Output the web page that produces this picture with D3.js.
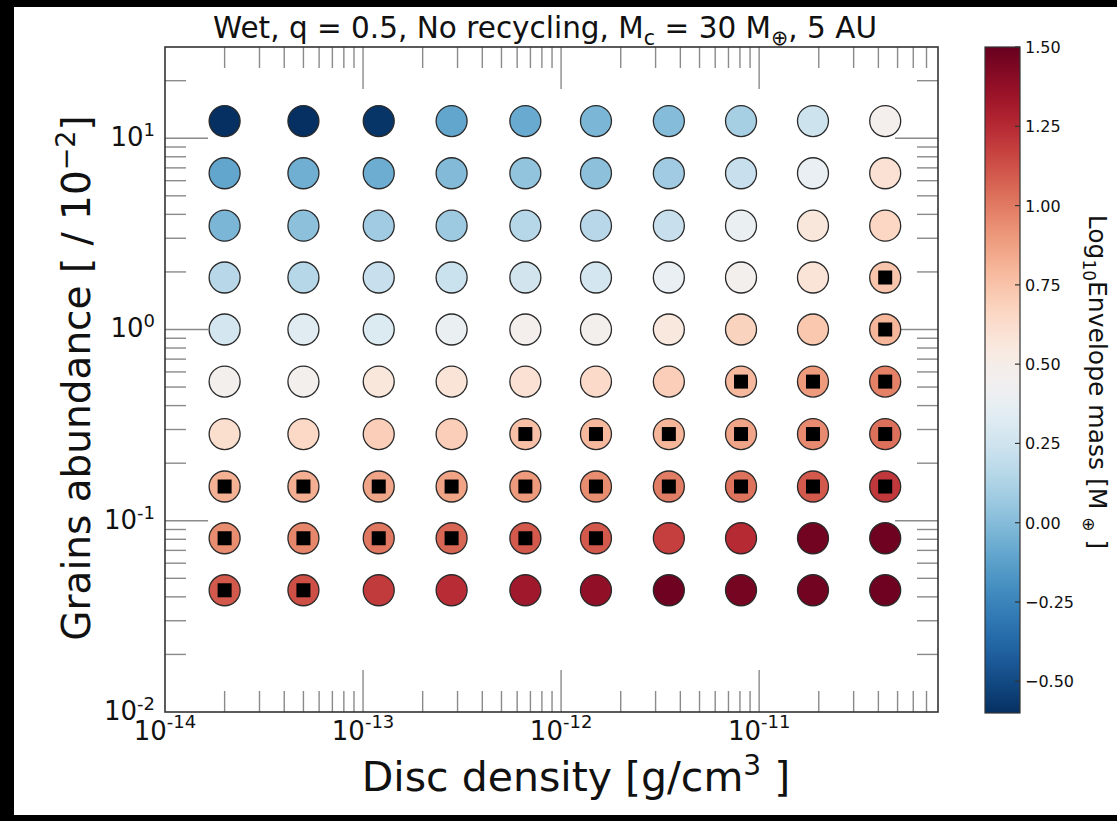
<!DOCTYPE html>
<html>
<head>
<meta charset="utf-8">
<script src="https://cdn.jsdelivr.net/npm/d3@7"></script>
<style>
  body { margin: 0; background: #000; }
  svg { display: block; }
  text { font-family: "DejaVu Sans", sans-serif; fill: #111; }
</style>
</head>
<body>
<svg id="chart" width="1117" height="821"></svg>
<script>
// grid of models: disc density (columns) x grains abundance (rows)
const density = [2e-14, 5e-14, 1.2e-13, 2.8e-13, 6.6e-13, 1.5e-12, 3.5e-12, 8.1e-12, 1.87e-11, 4.33e-11];
const abundance = [12.3, 6.56, 3.49, 1.87, 1.0, 0.534, 0.284, 0.151, 0.081, 0.0433];

// log10 envelope mass, one row per abundance (top to bottom)
const logMass = [
  [-0.62, -0.6, -0.58, -0.1, -0.08, -0.03, 0.0, 0.1, 0.24, 0.47],
  [-0.1, -0.06, -0.07, -0.01, 0.04, 0.02, 0.08, 0.22, 0.38, 0.6],
  [-0.03, 0.02, 0.08, 0.07, 0.15, 0.16, 0.22, 0.39, 0.56, 0.66],
  [0.16, 0.15, 0.22, 0.23, 0.26, 0.27, 0.38, 0.46, 0.58, 0.74],
  [0.27, 0.33, 0.31, 0.39, 0.47, 0.46, 0.55, 0.68, 0.73, 0.8],
  [0.46, 0.46, 0.56, 0.58, 0.6, 0.64, 0.7, 0.79, 0.9, 0.98],
  [0.62, 0.65, 0.7, 0.7, 0.76, 0.79, 0.8, 0.86, 0.95, 1.03],
  [0.82, 0.83, 0.86, 0.87, 0.9, 0.94, 0.99, 1.02, 1.1, 1.2],
  [0.94, 0.96, 1.01, 1.06, 1.1, 1.1, 1.18, 1.25, 1.47, 1.48],
  [1.1, 1.13, 1.19, 1.24, 1.33, 1.38, 1.48, 1.46, 1.47, 1.48]
];

// 1 = black square marker
const marked = [
  [0, 0, 0, 0, 0, 0, 0, 0, 0, 0],
  [0, 0, 0, 0, 0, 0, 0, 0, 0, 0],
  [0, 0, 0, 0, 0, 0, 0, 0, 0, 0],
  [0, 0, 0, 0, 0, 0, 0, 0, 0, 1],
  [0, 0, 0, 0, 0, 0, 0, 0, 0, 1],
  [0, 0, 0, 0, 0, 0, 0, 1, 1, 1],
  [0, 0, 0, 0, 1, 1, 1, 1, 1, 1],
  [1, 1, 1, 1, 1, 1, 1, 1, 1, 1],
  [1, 1, 1, 1, 1, 1, 0, 0, 0, 0],
  [1, 1, 0, 0, 0, 0, 0, 0, 0, 0]
];

const xTickExp = ["-14", "-13", "-12", "-11"];
const yTickExp = ["-2", "-1", "0", "1"];
const cbarTicks = [-0.5, -0.25, 0, 0.25, 0.5, 0.75, 1.0, 1.25, 1.5];

const svg = d3.select("#chart");

// white page with the black scan border left/top/bottom
svg.append("rect").attr("x", 14).attr("y", 7).attr("width", 1103).attr("height", 808).attr("fill", "#fff");

const pL = 165, pR = 938, pT = 47, pB = 712;

const x = d3.scaleLog().domain([1e-14, 8e-11]).range([pL, pR]);
const y = d3.scaleLog().domain([0.01, 30]).range([pB, pT]);
const color = d3.scaleSequential(t => d3.interpolateRdBu(1 - t)).domain([-0.6, 1.5]).clamp(true);

function isMajor(v) {
  const l = Math.log10(v);
  return Math.abs(l - Math.round(l)) < 1e-6;
}

// ticks, inward on all four sides
const tickG = svg.append("g").attr("stroke", "#8a8a8a").attr("stroke-width", 1.4);
const xt = x.ticks().filter(v => v > 1e-14 * 1.0001 && v < 8e-11 * 0.9999);
xt.forEach(v => {
  const len = isMajor(v) ? 42 : 21;
  tickG.append("line").attr("x1", x(v)).attr("x2", x(v)).attr("y1", pB).attr("y2", pB - len);
  tickG.append("line").attr("x1", x(v)).attr("x2", x(v)).attr("y1", pT).attr("y2", pT + len);
});
const yt = y.ticks().filter(v => v > 0.01 * 1.0001 && v < 30 * 0.9999);
yt.forEach(v => {
  const len = isMajor(v) ? 43 : 21;
  tickG.append("line").attr("y1", y(v)).attr("y2", y(v)).attr("x1", pL).attr("x2", pL + len);
  tickG.append("line").attr("y1", y(v)).attr("y2", y(v)).attr("x1", pR).attr("x2", pR - len);
});

// frame
svg.append("rect").attr("x", pL).attr("y", pT).attr("width", pR - pL).attr("height", pB - pT)
  .attr("fill", "none").attr("stroke", "#333").attr("stroke-width", 1.6);

// circles
const cells = [];
abundance.forEach((a, i) => density.forEach((d, j) => {
  cells.push({ d: d, a: a, v: logMass[i][j], m: marked[i][j] });
}));

svg.append("g").selectAll("circle").data(cells).enter().append("circle")
  .attr("cx", c => x(c.d)).attr("cy", c => y(c.a)).attr("r", 15.5)
  .attr("fill", c => color(c.v)).attr("stroke", "#2a2a2a").attr("stroke-width", 1.3);

svg.append("g").selectAll("rect").data(cells.filter(c => c.m)).enter().append("rect")
  .attr("x", c => x(c.d) - 7).attr("y", c => y(c.a) - 7).attr("width", 14).attr("height", 14)
  .attr("fill", "#000");

// x tick labels
xTickExp.forEach(e => {
  const t = svg.append("text").attr("x", x(Math.pow(10, +e))).attr("y", 740)
    .attr("text-anchor", "middle").attr("font-size", 26);
  t.append("tspan").text("10");
  t.append("tspan").attr("dy", -12).attr("font-size", 18).text(e);
});

// y tick labels
yTickExp.forEach(e => {
  const t = svg.append("text").attr("x", 155).attr("y", y(Math.pow(10, +e)) + 8)
    .attr("text-anchor", "end").attr("font-size", 26);
  t.append("tspan").text("10");
  t.append("tspan").attr("dy", -10).attr("font-size", 18).text(e);
});

// axis titles
const xl = svg.append("text").attr("x", 576).attr("y", 791).attr("text-anchor", "middle").attr("font-size", 41);
xl.append("tspan").text("Disc density [g/cm");
xl.append("tspan").attr("dy", -16).attr("font-size", 28).text("3");
xl.append("tspan").attr("dy", 16).text(" ]");

const yl = svg.append("text").attr("transform", "translate(90,378) rotate(-90)")
  .attr("text-anchor", "middle").attr("font-size", 39);
yl.append("tspan").text("Grains abundance [ / 10");
yl.append("tspan").attr("dy", -15).attr("font-size", 27).text("\u22122");
yl.append("tspan").attr("dy", 15).text("]");

// title, narrow face
const title = svg.append("text").attr("text-anchor", "middle").attr("font-size", 30);
title.append("tspan").text("Wet, q = 0.5, No recycling, M");
title.append("tspan").attr("dy", 7).attr("font-size", 21).text("c");
title.append("tspan").attr("dy", -7).text(" = 30 M");
title.append("tspan").attr("dy", 7).attr("font-size", 21).text("\u2295");
title.append("tspan").attr("dy", -7).text(", 5 AU");
const tw = title.node().getComputedTextLength();
title.attr("transform", `translate(545,38) scale(${664 / tw},1)`);

// colorbar
const cbX = 985, cbW = 35;
const cb = d3.scaleLinear().domain([-0.6, 1.5]).range([713, 47]);
const grad = svg.append("defs").append("linearGradient").attr("id", "cbgrad")
  .attr("x1", 0).attr("x2", 0).attr("y1", 1).attr("y2", 0);
d3.range(0, 1.0001, 0.02).forEach(t => {
  grad.append("stop").attr("offset", t).attr("stop-color", color(-0.6 + 2.1 * t));
});
svg.append("rect").attr("x", cbX).attr("y", cb(1.5)).attr("width", cbW).attr("height", cb(-0.6) - cb(1.5))
  .attr("fill", "url(#cbgrad)").attr("stroke", "#333").attr("stroke-width", 1.2);
cbarTicks.forEach(v => {
  svg.append("line").attr("x1", cbX + cbW - 5).attr("x2", cbX + cbW).attr("y1", cb(v)).attr("y2", cb(v))
    .attr("stroke", "#333").attr("stroke-width", 1.2);
  svg.append("text").attr("x", cbX + cbW + 5).attr("y", cb(v) + 6).attr("font-size", 16)
    .text(d3.format(".2f")(v).replace("-", "\u2212"));
});

const cl = svg.append("text").attr("transform", "translate(1089,382) rotate(90)")
  .attr("text-anchor", "middle").attr("font-size", 25);
cl.append("tspan").text("Log");
cl.append("tspan").attr("dy", 6).attr("font-size", 17).text("10");
cl.append("tspan").attr("dy", -6).text("Envelope mass [M ");
cl.append("tspan").attr("dy", 6).attr("font-size", 17).text("\u2295");
cl.append("tspan").attr("dy", -6).text(" ]");
</script>
</body>
</html>
